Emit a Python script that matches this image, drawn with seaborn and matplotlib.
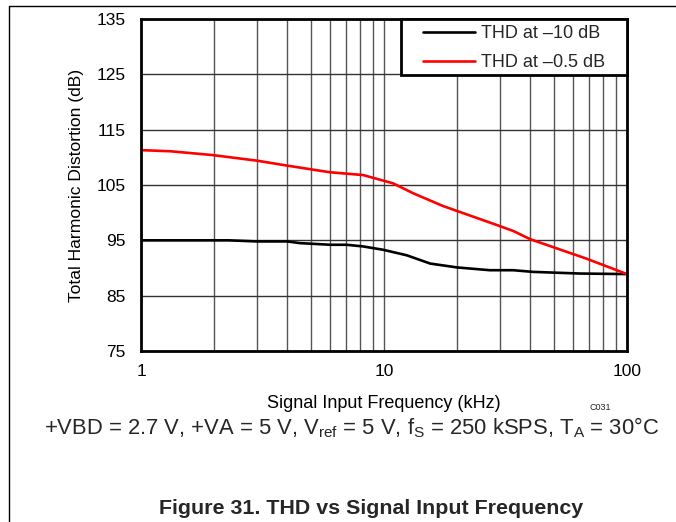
import numpy as np
import pandas as pd
import matplotlib
matplotlib.use("Agg")
import matplotlib.pyplot as plt
from matplotlib.lines import Line2D
from matplotlib.patches import Rectangle
import seaborn as sns

# ── Veriler ───────────────────────────────────────────────────────────────────
freq_10 = [1, 2.3, 3, 4, 4.5, 6, 7, 8.2, 9.9, 12.4, 15.5, 20, 27.3, 34, 41, 64, 100]
thd_10 = [95.0, 95.0, 94.8, 94.8, 94.5, 94.2, 94.2, 93.9, 93.3, 92.3, 90.8, 90.1, 89.6, 89.6, 89.3, 89.0, 88.9]

freq_05 = [1, 1.32, 1.98, 3, 4, 6, 8.2, 10.9, 13.2, 17.5, 29, 34, 40, 68, 100]
thd_05 = [111.3, 111.1, 110.4, 109.4, 108.5, 107.3, 106.8, 105.3, 103.5, 101.2, 97.8, 96.7, 95.2, 91.7, 88.9]

y_ticks = [75, 85, 95, 105, 115, 125, 135]
x_ticks = [1, 10, 100]
labels = ["THD at \u201310 dB", "THD at \u20130.5 dB"]
colors = ["black", "#ff0000"]

df = pd.concat([
    pd.DataFrame({"f": freq_10, "thd": thd_10, "seri": labels[0]}),
    pd.DataFrame({"f": freq_05, "thd": thd_05, "seri": labels[1]}),
])

# ── Stil ──────────────────────────────────────────────────────────────────────
sns.set_theme(style="white")
plt.rcParams["font.family"] = ["Liberation Sans", "DejaVu Sans"]
plt.rcParams["mathtext.default"] = "regular"

fig = plt.figure(figsize=(6.76, 5.22), dpi=100)
ax = fig.add_axes([141 / 676, 1 - 351 / 522, 486 / 676, 332 / 522])

sns.lineplot(data=df, x="f", y="thd", hue="seri", palette=dict(zip(labels, colors)),
             linewidth=1.9, ax=ax, legend=False, sort=False)

ax.set_xscale("log")
ax.set_xlim(1, 100)
ax.set_ylim(75, 135)
ax.set_xticks(x_ticks)
ax.set_xticklabels([str(t) for t in x_ticks])
ax.set_yticks(y_ticks)
ax.tick_params(axis="both", which="both", length=0, labelsize=12.5, colors="black")
ax.tick_params(axis="y", pad=11)
ax.tick_params(axis="x", pad=9)

ax.grid(True, which="both", axis="x", color="#555555", linewidth=1)
ax.grid(True, which="major", axis="y", color="#333333", linewidth=1)
ax.set_axisbelow(True)
for sp in ax.spines.values():
    sp.set_color("black")
    sp.set_linewidth(2)

ax.set_xlabel("Signal Input Frequency (kHz)", fontsize=13, labelpad=12, color="black")
ax.set_ylabel("Total Harmonic Distortion (dB)", fontsize=12.6, labelpad=9, color="black")

# Lejant: çerçeve ayrı çiziliyor (geniş iç boşluk için)
ax.add_patch(Rectangle((401 / 676, 1 - 75 / 522), 226 / 676, 56 / 522,
                       transform=fig.transFigure, facecolor="white", edgecolor="black",
                       linewidth=2, zorder=4, clip_on=False))
handles = [Line2D([], [], color=c, linewidth=1.9) for c in colors]
leg = ax.legend(handles, labels, loc="upper left", bbox_to_anchor=(423 / 676, 1 - 25 / 522),
                bbox_transform=fig.transFigure, fontsize=13, frameon=False,
                borderpad=0, borderaxespad=0, handlelength=2.9, handletextpad=0.3,
                labelspacing=0.66)
leg.set_zorder(5)

fig.text(600 / 676, 1 - 408 / 522, "C031", fontsize=6.5, ha="center", va="center")
fig.text(352 / 676, 1 - 428 / 522,
         "+VBD = 2.7 V, +VA = 5 V, $V_{ref}$ = 5 V, $f_S$ = 250 kSPS, $T_A$ = 30\u00b0C",
         fontsize=15.8, ha="center", va="center")
fig.text(371 / 676, 1 - 509 / 522, "Figure 31. THD vs Signal Input Frequency",
         fontsize=15.4, fontweight="bold", ha="center", va="center")

# sayfa kenarı
fig.add_artist(Line2D([9 / 676, 9 / 676], [0, 1 - 6 / 522], color="black", linewidth=1))
fig.add_artist(Line2D([9 / 676, 1], [1 - 6 / 522, 1 - 6 / 522], color="black", linewidth=1))

fig.savefig("out.png", dpi=100)
